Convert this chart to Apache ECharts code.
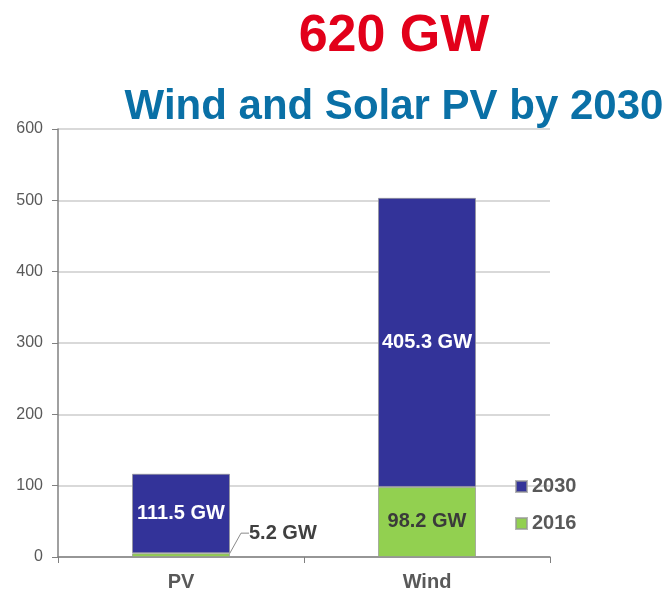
<!DOCTYPE html>
<html>
<head>
<meta charset="utf-8">
<script src="https://cdn.jsdelivr.net/npm/echarts@6/dist/echarts.min.js"></script>
<style>html,body{margin:0;padding:0;background:#fff;}#c{width:671px;height:592px;}</style>
</head>
<body>
<div id="c"></div>
<script>
var categories = ['PV', 'Wind'];
var values2016 = [5.2, 98.2];
var values2030 = [111.5, 405.3];
var yTicks = [0, 100, 200, 300, 400, 500, 600];
var titleText = '620 GW';
var subtitleText = 'Wind and Solar PV by 2030';

var FONT = '"Liberation Sans", Arial, sans-serif';
var chart = echarts.init(document.getElementById('c'), null, {renderer: 'canvas'});

chart.setOption({
  animation: false,
  backgroundColor: '#ffffff',
  title: [
    {text: titleText, left: 394, top: 11, textAlign: 'center', padding: 0,
     textStyle: {color: '#E2001A', fontFamily: FONT, fontWeight: 'bold', fontSize: 52, lineHeight: 52}},
    {text: subtitleText, left: 394, top: 86, textAlign: 'center', padding: 0,
     textStyle: {color: '#0A70A6', fontFamily: FONT, fontWeight: 'bold', fontSize: 42, lineHeight: 42}}
  ],
  legend: {
    data: ['2030', '2016'],
    orient: 'vertical',
    left: 515, top: 476,
    padding: 0,
    itemWidth: 11, itemHeight: 11, itemGap: 16,
    icon: 'rect',
    selectedMode: false,
    textStyle: {color: '#595959', fontFamily: FONT, fontWeight: 'bold', fontSize: 20, lineHeight: 21}
  },
  grid: {left: 58, right: 121, top: 129, bottom: 35, containLabel: false},
  xAxis: {
    type: 'category',
    data: categories,
    axisLine: {show: true, lineStyle: {color: '#808080', width: 1.5}},
    axisTick: {show: true, length: 6, lineStyle: {color: '#808080'}},
    axisLabel: {color: '#595959', fontFamily: FONT, fontWeight: 'bold', fontSize: 20, margin: 15}
  },
  yAxis: {
    type: 'value',
    min: yTicks[0], max: yTicks[yTicks.length - 1], interval: 100,
    axisLine: {show: true, lineStyle: {color: '#808080', width: 1.5}},
    axisTick: {show: true, length: 6, lineStyle: {color: '#808080'}},
    axisLabel: {color: '#595959', fontFamily: FONT, fontSize: 16, margin: 15},
    splitLine: {show: true, lineStyle: {color: '#cccccc', width: 1.5}}
  },
  series: [
    {
      name: '2016', type: 'bar', stack: 'total', barWidth: 98,
      itemStyle: {color: '#92D050', borderColor: 'rgba(150,150,150,0.7)', borderWidth: 1},
      label: {show: true, position: 'inside', formatter: '{c} GW', color: '#3a3a3a',
              fontFamily: FONT, fontWeight: 'bold', fontSize: 20},
      data: values2016.map(function (v, i) {
        if (i === 0) {
          return {value: v, label: {position: 'right', distance: 4, color: '#404040'},
                  labelLine: {show: true, length2: 8, lineStyle: {color: '#8a8a8a', width: 1}}};
        }
        return v;
      }),
      labelLayout: function (params) {
        if (params.dataIndex === 0) {
          return {dx: 15, dy: -22};
        }
        return {};
      },
      labelLine: {show: false}
    },
    {
      name: '2030', type: 'bar', stack: 'total', barWidth: 98,
      itemStyle: {color: '#333399', borderColor: 'rgba(150,150,150,0.7)', borderWidth: 1},
      label: {show: true, position: 'inside', formatter: '{c} GW', color: '#ffffff',
              fontFamily: FONT, fontWeight: 'bold', fontSize: 20},
      data: values2030
    }
  ]
});
</script>
</body>
</html>
